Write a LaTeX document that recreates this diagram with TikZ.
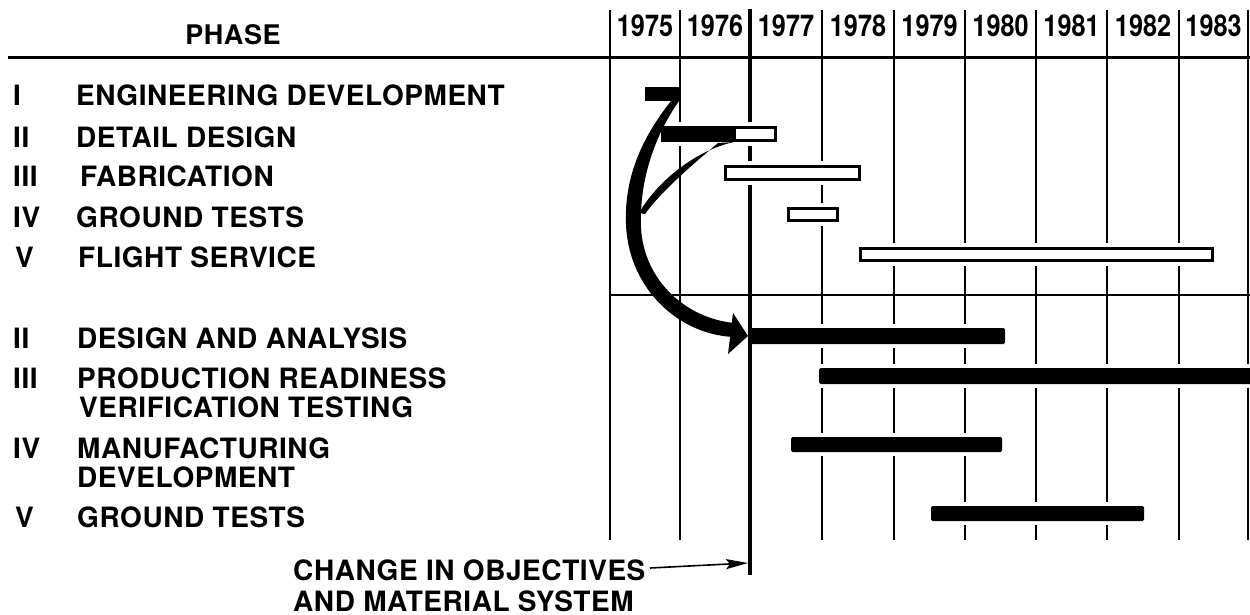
\documentclass[tikz,border=0pt]{standalone}
\usepackage{fontspec}
\setmainfont{TeX Gyre Heros}[LetterSpace=2]
\newfontfamily\yearfont{TeX Gyre Heros}[FakeStretch=0.84]
\usetikzlibrary{arrows.meta}
\tikzset{
  lbl/.style={anchor=base west, inner sep=0pt, font=\bfseries\fontsize{28}{30}\selectfont},
  yr/.style={anchor=base, inner sep=0pt, font=\yearfont\bfseries\fontsize{30}{32}\selectfont},
  gridline/.style={line width=2.6pt},
  halo/.style={fill=white},
  openbar/.style={draw=black, fill=white, line width=2.8pt},
  solidbar/.style={fill=black, rounded corners=1.5pt},
}
\begin{document}
\begin{tikzpicture}[x=1pt,y=-1pt]
\useasboundingbox (0,0) rectangle (1250,615);
\fill[white] (0,0) rectangle (1250,615);
% header
\node[anchor=base, inner sep=0pt, font=\bfseries\fontsize{27}{30}\selectfont] (phase) at (233,45) {PHASE};
\foreach \yy/\xx in {1975/645,1976/715,1977/786,1978/858,1979/929.5,1980/1000.5,1981/1071.5,1982/1143,1983/1213.5}
  \node[yr] (y\yy) at (\xx,37) {\yy};
\draw[line width=3pt] (8,58) -- (1250,58);
% vertical grid lines
\foreach \xx in {610,680,822,894,965,1036,1107,1179,1248}
  \draw[gridline] (\xx,10) -- (\xx,540);
\draw[line width=2pt] (610,295) -- (1250,295);
% lower solid bars with halos
\fill[halo] (752,324) rectangle (1009,348);
\fill[halo] (815,364) rectangle (1250,388);
\fill[halo] (787,433) rectangle (1006,456);
\fill[halo] (927,502) rectangle (1148,525);
% 1977 line
\draw[line width=3.8pt] (750,9) -- (750,575);
\fill[solidbar] (750,328) rectangle (1005,344);
\fill[solidbar] (819,368) rectangle (1252,384);
\fill[solidbar] (791,437) rectangle (1002,452);
\fill[solidbar] (931,506) rectangle (1144,521);
% upper bars
\fill[black] (645,87) rectangle (679,101);
\fill[halo] (657,122) rectangle (781,146);
\draw[openbar] (662.4,127.4) rectangle (775.6,140.6);
\fill[black] (661,126) rectangle (736,142);
\fill[halo] (720,161) rectangle (865,185);
\draw[openbar] (725.4,166.4) rectangle (859.6,179.6);
\fill[halo] (783,203) rectangle (843,226);
\draw[openbar] (788.4,208.4) rectangle (837.6,220.6);
\fill[halo] (855,243) rectangle (1218,266);
\draw[openbar] (860.4,248.4) rectangle (1212.6,260.6);
% big curved arrow
\fill[black] (671,101) .. controls (640,140) and (624,180) .. (626,225)
   .. controls (629,290) and (680,335) .. (734,337)
   -- (734,323) .. controls (685,318) and (644,280) .. (641,228)
   .. controls (639,180) and (655,135) .. (679,101) -- cycle;
\fill[black] (733,313) -- (748,336) -- (728,354) -- cycle;
% thin curved arrow
\fill[black] (734,142) .. controls (697,150) and (658,180) .. (639,213)
   -- (645,214) .. controls (664,188) and (696,162) .. (718,143) -- cycle;
% labels upper
\node[lbl] (r1) at (13,106) {I};
\node[lbl] (l1) at (76,106) {ENGINEERING DEVELOPMENT};
\node[lbl] (r2) at (13,147) {II};
\node[lbl] (l2) at (76,147) {DETAIL DESIGN};
\node[lbl] (r3) at (13,186) {III};
\node[lbl] (l3) at (80,186) {FABRICATION};
\node[lbl] (r4) at (13,227) {IV};
\node[lbl] (l4) at (76,227) {GROUND TESTS};
\node[lbl] (r5) at (15,267) {V};
\node[lbl] (l5) at (78,267) {FLIGHT SERVICE};
% labels lower
\node[lbl] (r6) at (13,348) {II};
\node[lbl] (l6) at (77,348) {DESIGN AND ANALYSIS};
\node[lbl] (r7) at (13,388) {III};
\node[lbl] (l7) at (77,388) {PRODUCTION READINESS};
\node[lbl] (l7b) at (79,417) {VERIFICATION TESTING};
\node[lbl] (r8) at (13,458) {IV};
\node[lbl] (l8) at (77,458) {MANUFACTURING};
\node[lbl] (l8b) at (77,487) {DEVELOPMENT};
\node[lbl] (r9) at (15,527) {V};
\node[lbl] (l9) at (77,527) {GROUND TESTS};
% bottom note
\node[lbl] (change) at (293,580) {CHANGE IN OBJECTIVES};
\node[lbl] (change2) at (293,611) {AND MATERIAL SYSTEM};
\coordinate (cstart) at (650,568);
\coordinate (cend) at (748,563);
\draw[line width=1.6pt, -{Stealth[length=22pt,width=10pt,inset=4pt]}] (cstart) -- (cend);
\end{tikzpicture}
\end{document}
